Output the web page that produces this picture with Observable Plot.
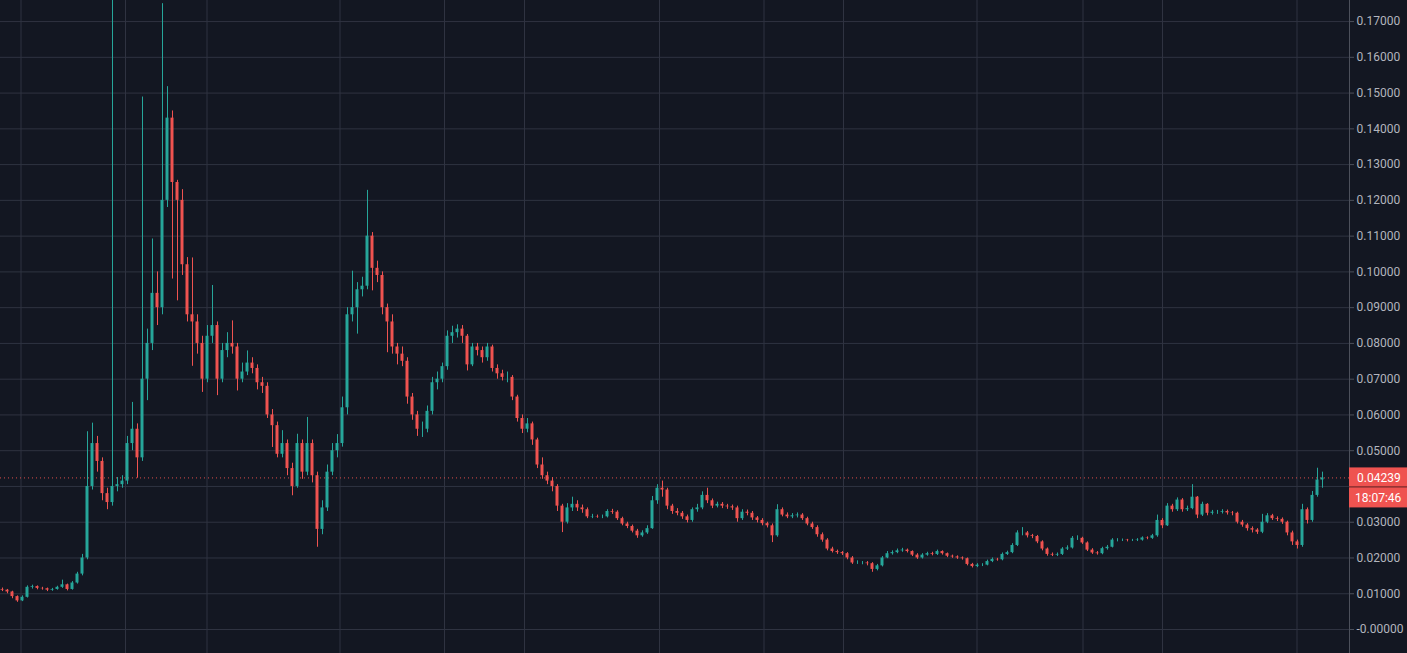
<!DOCTYPE html>
<html><head><meta charset="utf-8">
<script src="https://cdn.jsdelivr.net/npm/d3@7"></script>
<script src="https://cdn.jsdelivr.net/npm/@observablehq/plot@0.6"></script>
<style>html,body{margin:0;padding:0;background:#131722;overflow:hidden}#chart svg{display:block}</style>
</head><body><div id="chart"></div>
<script>
// Prices are in units of 0.0001 (ten-thousandths)
const firstOpen = 112;
const closes = [
110,105,92,80,90,118,120,115,114,110,
112,118,125,112,130,155,200,400,520,470,
380,355,400,405,415,520,560,480,700,800,
940,900,1200,1430,1250,1200,1020,880,860,800,
700,820,850,700,780,800,790,700,720,745,
730,690,680,600,570,490,520,450,400,520,
440,520,430,280,340,440,500,520,620,880,
900,950,960,1100,1010,990,900,860,790,770,
750,650,600,560,560,610,690,700,735,820,
830,840,820,740,790,780,760,790,730,715,
705,705,650,590,560,575,530,460,430,415,
400,345,300,340,350,340,335,315,316,315,
315,330,328,310,295,288,275,262,270,282,
360,395,390,345,330,325,315,305,335,340,
375,360,345,350,345,343,340,310,328,325,
312,305,296,290,262,335,320,315,318,320,
310,295,285,265,250,225,218,215,212,200,
186,186,186,184,168,178,200,212,215,220,
222,218,208,200,208,212,210,218,212,205,
203,200,198,182,176,180,180,190,196,195,
210,215,235,270,270,262,260,245,225,210,
208,210,225,228,255,255,242,222,214,212,
226,230,250,250,250,249,249,250,256,255,
262,305,290,345,335,362,335,338,370,320,
350,325,328,328,330,326,325,300,292,282,
278,272,300,318,310,308,300,270,245,235,
335,305,375,418,423.9
];
const highs = [
116,112,107,94,94,122,124,122,118,116,
115,121,138,127,134,160,210,553,577,540,
480,395,1800,425,430,540,635,575,1489,840,
1092,1000,1750,1518,1450,1256,1230,1040,1039,880,
820,850,962,860,800,830,863,800,745,779,
760,740,705,690,615,580,556,530,465,546,
530,593,530,440,360,460,520,545,650,900,
1002,970,985,1228,1110,1030,1000,910,880,800,
790,760,660,610,580,625,705,720,745,835,
848,852,850,825,800,800,790,800,795,740,
725,720,710,655,600,590,580,535,480,440,
425,405,350,352,370,360,348,340,322,320,
320,335,336,332,314,300,292,280,276,290,
372,405,415,395,350,338,330,320,340,350,
385,395,365,356,355,350,348,345,335,334,
330,316,310,300,295,349,340,326,324,326,
324,314,300,290,270,254,230,222,218,215,
204,192,190,190,187,182,204,218,220,225,
227,225,220,212,212,216,216,222,220,214,
208,206,203,200,185,184,184,194,200,199,
214,219,240,276,285,274,266,263,248,228,
214,214,229,234,260,262,258,245,226,218,
230,235,254,254,253,252,252,254,259,259,
266,320,310,352,350,368,366,345,405,372,
356,352,333,333,335,334,330,328,305,296,
287,282,322,324,322,315,312,303,275,250,
350,340,386,451,440
];
const lows = [
106,100,86,76,78,88,113,111,110,106,
107,110,115,108,110,127,150,195,390,440,
360,335,345,385,395,405,500,423,470,640,
780,850,880,1180,980,919,990,860,736,770,
663,690,800,654,690,760,770,667,690,710,
715,670,660,590,509,480,480,430,374,395,
420,430,410,230,265,330,430,480,510,600,
860,826,930,950,947,970,880,774,770,740,
735,630,585,540,537,550,600,670,690,725,
800,815,800,723,735,765,745,750,720,700,
695,690,640,580,548,550,515,450,420,405,
385,330,271,295,330,330,325,310,310,311,
310,312,322,305,290,282,270,255,258,266,
280,350,370,335,322,318,308,298,300,328,
335,352,338,340,338,336,333,300,305,318,
305,298,290,284,243,258,315,310,310,312,
305,290,280,258,244,220,214,210,207,195,
182,182,181,178,160,164,175,198,208,212,
216,214,204,196,197,205,206,207,208,201,
199,196,194,178,172,173,176,178,187,191,
192,207,212,232,262,256,254,240,220,205,
204,204,207,221,225,249,238,218,210,208,
209,222,228,245,246,245,246,246,247,251,
252,258,282,288,328,330,328,330,335,310,
316,318,320,322,323,320,318,295,286,275,
270,266,268,296,305,302,294,262,235,225,
230,295,300,370,395
];
// y-axis ticks and their labels (the 0.04000 label is hidden behind the price tag)
const yTicks = [0,0.01,0.02,0.03,0.04,0.05,0.06,0.07,0.08,0.09,0.10,0.11,0.12,0.13,0.14,0.15,0.16,0.17];
const yTickLabels = ["-0.00000","0.01000","0.02000","0.03000","","0.05000","0.06000","0.07000","0.08000","0.09000","0.10000","0.11000","0.12000","0.13000","0.14000","0.15000","0.16000","0.17000"];
// time grid ticks (in candle index units)
const xGridTicks = [3.7,24.6,40.9,67.5,88.4,104.4,131.4,152.3,168.2,194.9,216.1,232,258.9];
const lastPriceLabel = "0.04239";
const countdownLabel = "18:07:46";

const UP = "#26a69a", DOWN = "#ef5350", GRID = "#2f3341", AXIS = "#4c505b", TEXT = "#b2b5be", BG = "#131722";
const SCALE = 1e4;
const candles = closes.map((c, i) => ({
  i, open: (i ? closes[i - 1] : firstOpen) / SCALE, close: c / SCALE,
  high: highs[i] / SCALE, low: lows[i] / SCALE
}));
const upC = candles.filter(d => d.close >= d.open);
const downC = candles.filter(d => d.close < d.open);
const lastPrice = candles[candles.length - 1].close;
const labelMap = new Map(yTicks.map((t, i) => [t, yTickLabels[i]]));
const xDomain = [-0.4, 269.4];
const HW = 0.3;

const priceTag = (index, scales, values, dims) => {
  const y = scales.y(lastPrice);
  const x0 = dims.width - dims.marginRight;
  const g = d3.create("svg:g").attr("text-anchor", "start");
  g.append("rect").attr("x", x0).attr("y", y - 10).attr("width", dims.marginRight).attr("height", 40).attr("fill", DOWN);
  g.append("line").attr("x1", x0).attr("x2", dims.width).attr("y1", y + 9.5).attr("y2", y + 9.5).attr("stroke", "#5a1f22");
  g.append("text").attr("x", x0 + 8).attr("y", y).attr("dy", "0.35em").attr("fill", "#ffffff")
    .attr("font-size", 12).text(lastPriceLabel);
  g.append("text").attr("x", x0 + 6).attr("y", y + 20).attr("dy", "0.35em").attr("fill", "#ffffff")
    .attr("font-size", 12).text(countdownLabel);
  return g.node();
};

const chart = Plot.plot({
  width: 1407, height: 653,
  marginLeft: 0, marginRight: 58, marginTop: 0, marginBottom: 0,
  style: {background: BG, color: TEXT, fontFamily: "Roboto, 'DejaVu Sans', sans-serif", fontSize: "12px"},
  x: {domain: xDomain, axis: null},
  y: {domain: [-0.00671, 0.17589], axis: null},
  marks: [
    Plot.gridY(yTicks, {stroke: GRID, strokeOpacity: 1}),
    Plot.gridX(xGridTicks, {stroke: GRID, strokeOpacity: 1}),
    Plot.ruleY([lastPrice], {stroke: DOWN, strokeOpacity: 0.9, strokeDasharray: "1,3"}),
    Plot.ruleX(upC, {x: "i", y1: "low", y2: "high", stroke: UP}),
    Plot.ruleX(downC, {x: "i", y1: "low", y2: "high", stroke: DOWN}),
    Plot.rect(upC, {x1: d => d.i - HW, x2: d => d.i + HW, y1: "open", y2: "close", fill: UP}),
    Plot.rect(downC, {x1: d => d.i - HW, x2: d => d.i + HW, y1: "open", y2: "close", fill: DOWN}),
    Plot.ruleX([xDomain[1]], {stroke: AXIS}),
    Plot.axisY(yTicks, {anchor: "right", tickSize: 4, tickPadding: 3, stroke: AXIS, textAnchor: "start",
      tickFormat: d => labelMap.get(d), fontSize: 12}),
    priceTag
  ]
});
document.getElementById("chart").append(chart);
</script></body></html>
